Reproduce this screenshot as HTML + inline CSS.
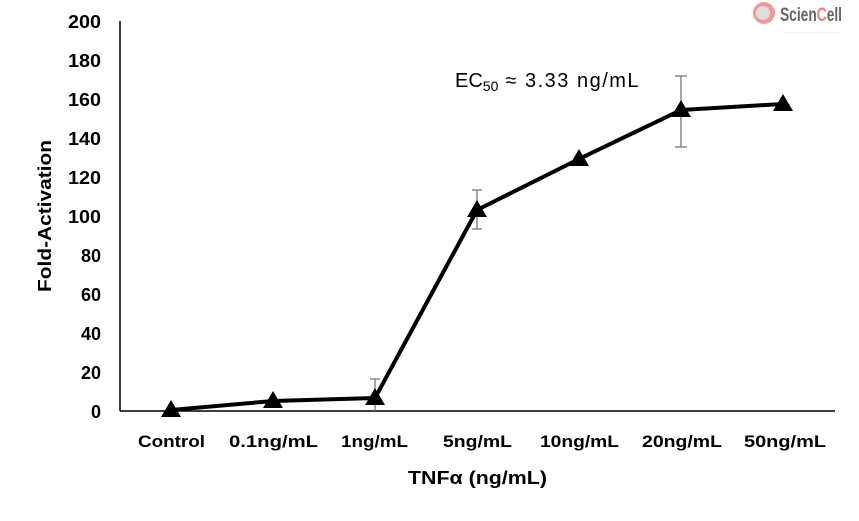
<!DOCTYPE html>
<html><head><meta charset="utf-8"><style>
html,body{margin:0;padding:0;background:#fff}
svg{display:block}
text{font-family:"Liberation Sans",sans-serif}
</style></head><body>
<svg width="859" height="521" viewBox="0 0 859 521" xmlns="http://www.w3.org/2000/svg">
<rect width="859" height="521" fill="#fff"/>
<line x1="120" y1="21" x2="120" y2="411" stroke="#000" stroke-width="1.5"/>
<line x1="120" y1="411" x2="835" y2="411" stroke="#000" stroke-width="1.5"/>
<g font-size="18" font-weight="bold" text-anchor="end" fill="#000">
<text x="101" y="418">0</text>
<text x="101" y="379">20</text>
<text x="101" y="340">40</text>
<text x="101" y="301">60</text>
<text x="101" y="262">80</text>
<text x="101" y="223" textLength="33" lengthAdjust="spacingAndGlyphs">100</text>
<text x="101" y="184" textLength="33" lengthAdjust="spacingAndGlyphs">120</text>
<text x="101" y="145" textLength="33" lengthAdjust="spacingAndGlyphs">140</text>
<text x="101" y="106" textLength="33" lengthAdjust="spacingAndGlyphs">160</text>
<text x="101" y="67" textLength="33" lengthAdjust="spacingAndGlyphs">180</text>
<text x="101" y="28" textLength="33" lengthAdjust="spacingAndGlyphs">200</text>
</g>
<g font-size="17" font-weight="bold" fill="#000">
<text x="138" y="447" textLength="67" lengthAdjust="spacingAndGlyphs">Control</text>
<text x="229" y="447" textLength="89" lengthAdjust="spacingAndGlyphs">0.1ng/mL</text>
<text x="341" y="447" textLength="67" lengthAdjust="spacingAndGlyphs">1ng/mL</text>
<text x="443" y="447" textLength="69" lengthAdjust="spacingAndGlyphs">5ng/mL</text>
<text x="540" y="447" textLength="79" lengthAdjust="spacingAndGlyphs">10ng/mL</text>
<text x="642" y="447" textLength="80" lengthAdjust="spacingAndGlyphs">20ng/mL</text>
<text x="744" y="447" textLength="82" lengthAdjust="spacingAndGlyphs">50ng/mL</text>
<text x="408" y="484" font-size="18" textLength="139" lengthAdjust="spacingAndGlyphs">TNFα (ng/mL)</text>
<text transform="translate(51,292) rotate(-90)" font-size="18" textLength="152" lengthAdjust="spacingAndGlyphs">Fold-Activation</text>
</g>
<g stroke="#777" stroke-width="1.3">
<line x1="375" y1="379" x2="375" y2="411"/><line x1="370" y1="379" x2="380" y2="379"/>
<line x1="477" y1="190" x2="477" y2="229"/><line x1="472" y1="190" x2="482" y2="190"/><line x1="472" y1="229" x2="482" y2="229"/>
<line x1="681" y1="76" x2="681" y2="147"/><line x1="675" y1="76" x2="687" y2="76"/><line x1="675" y1="147" x2="687" y2="147"/>
</g>
<polyline fill="none" stroke="#000" stroke-width="4" stroke-linejoin="round" points="171,410 273,401 375,398 477,210 579,159 681,110 783,104"/>
<g fill="#000">
<polygon points="171,400 161,417 181,417"/>
<polygon points="273,391 263,408 283,408"/>
<polygon points="375,388 365,405 385,405"/>
<polygon points="477,200 467,217 487,217"/>
<polygon points="579,149 569,166 589,166"/>
<polygon points="681,100 671,117 691,117"/>
<polygon points="783,94 773,111 793,111"/>
</g>
<text x="455" y="87" font-size="20" fill="#000">EC<tspan font-size="14" dy="4">50</tspan><tspan dy="-4" letter-spacing="1.5"> ≈ 3.33 ng/mL</tspan></text>
<circle cx="764" cy="13" r="11" fill="#f29a9a"/>
<circle cx="763" cy="13" r="7" fill="#ddd"/>
<text x="780" y="21" font-size="19" font-weight="bold" fill="#666" textLength="62" lengthAdjust="spacingAndGlyphs">Scien<tspan fill="#f08080">C</tspan>ell</text>
<line x1="783" y1="33" x2="840" y2="33" stroke="#eee" stroke-width="1"/>
</svg>
</body></html>
